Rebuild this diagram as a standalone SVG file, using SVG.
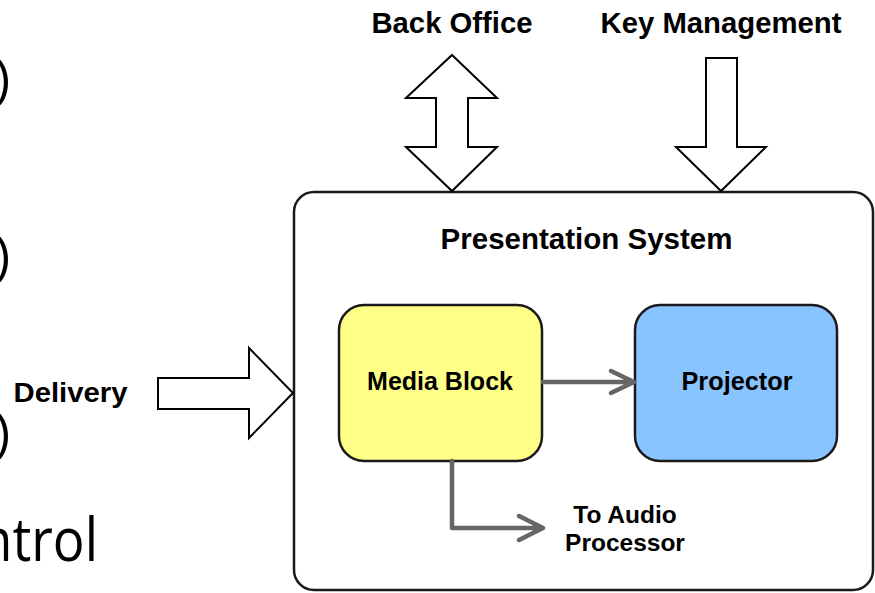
<svg xmlns="http://www.w3.org/2000/svg" width="875" height="593" viewBox="0 0 875 593">
<style>
.lbl{font-family:"Liberation Sans",Arial,sans-serif;font-weight:bold;fill:#000;text-anchor:middle}
.big{font-family:"Open Sans","Liberation Sans",sans-serif;fill:#000}
.fat{fill:#fff;stroke:#000;stroke-width:2;stroke-linejoin:miter}
.blk{stroke:#1a1a1a;stroke-width:2.5}
.conn{fill:none;stroke:#666;stroke-width:4.5;stroke-linecap:round;stroke-linejoin:round}
</style>
<rect width="875" height="593" fill="#fff"/>
<g id="background-fragments">
<text class="big" x="-5" y="97" font-size="51">)</text>
<text class="big" x="-5" y="274" font-size="51">)</text>
<text class="big" x="-5" y="451" font-size="51">)</text>
<text class="big" x="-20" y="561" font-size="61" textLength="118" lengthAdjust="spacingAndGlyphs">ntrol</text>
</g>
<g id="presentation-system">
<rect x="294" y="192" width="579" height="398" rx="20" ry="20" fill="#fff" stroke="#1a1a1a" stroke-width="2.5"/>
<text class="lbl" x="586.5" y="249" font-size="29.5">Presentation System</text>
</g>
<g id="back-office">
<text class="lbl" x="452" y="33" font-size="29.3">Back Office</text>
</g>
<g id="key-management">
<text class="lbl" x="721" y="33" font-size="29.3">Key Management</text>
</g>
<g id="delivery">
<text class="lbl" x="70.5" y="402" font-size="27" textLength="114" lengthAdjust="spacingAndGlyphs">Delivery</text>
</g>
<g id="media-block">
<rect class="blk" x="339" y="305" width="203" height="156" rx="25" ry="25" fill="#ffff88"/>
<text class="lbl" x="440" y="390" font-size="25">Media Block</text>
</g>
<g id="projector">
<rect class="blk" x="635" y="305" width="202" height="156" rx="25" ry="25" fill="#88c4ff"/>
<text class="lbl" x="737" y="390" font-size="25.3">Projector</text>
</g>
<g id="audio-label">
<text class="lbl" x="625" y="523" font-size="24.5">To Audio</text>
<text class="lbl" x="625" y="551" font-size="24.5">Processor</text>
</g>
<g id="connectors">
<polygon class="fat" points="452,55 497,98 468,98 468,147 497,147 452,191 406,147 436,147 436,98 406,98"/>
<polygon class="fat" points="706,58 737,58 737,147 766,147 721,191 676,147 706,147"/>
<polygon class="fat" points="158,378 249,378 249,348 293,393 249,438 249,409 158,409"/>
<path class="conn" d="M543,382 H634 M611,371 L634,382 L611,393"/>
<path class="conn" d="M452,461 V528 H543 M519,516 L543,528 L519,540"/>
</g>
</svg>
